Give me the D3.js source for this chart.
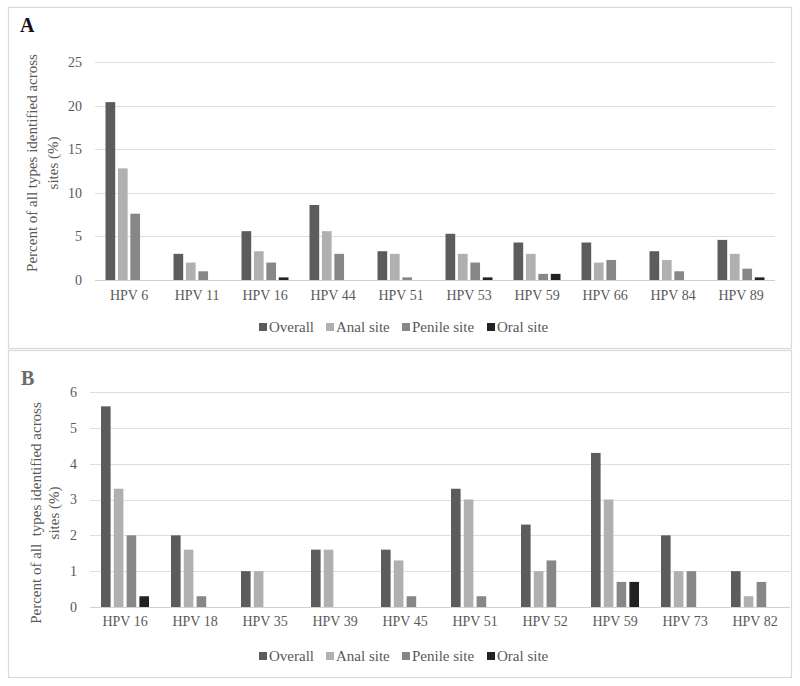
<!DOCTYPE html>
<html><head><meta charset="utf-8">
<script src="https://cdn.jsdelivr.net/npm/d3@7"></script>
<style>body{margin:0;background:#fff}svg{display:block}text{font-family:"Liberation Serif","DejaVu Serif",serif}</style>
</head><body><svg id="c" width="800" height="686"></svg>
<script>
const seriesNames = ["Overall","Anal site","Penile site","Oral site"];
const seriesColors = ["#5c5c5c","#b0b0b0","#878787","#222222"];

const catsA = ["HPV 6","HPV 11","HPV 16","HPV 44","HPV 51","HPV 53","HPV 59","HPV 66","HPV 84","HPV 89"];
const overallA = [20.4,3,5.6,8.6,3.3,5.3,4.3,4.3,3.3,4.6];
const analA    = [12.8,2,3.3,5.6,3,3,3,2,2.3,3];
const penileA  = [7.6,1,2,3,0.3,2,0.7,2.3,1,1.3];
const oralA    = [0,0,0.3,0,0,0.3,0.7,0,0,0.3];
const ticksA = [0,5,10,15,20,25];

const catsB = ["HPV 16","HPV 18","HPV 35","HPV 39","HPV 45","HPV 51","HPV 52","HPV 59","HPV 73","HPV 82"];
const overallB = [5.6,2,1,1.6,1.6,3.3,2.3,4.3,2,1];
const analB    = [3.3,1.6,1,1.6,1.3,3,1,3,1,0.3];
const penileB  = [2,0.3,0,0,0.3,0.3,1.3,0.7,1,0.7];
const oralB    = [0.3,0,0,0,0,0,0,0.7,0,0];
const ticksB = [0,1,2,3,4,5,6];

const svg = d3.select("#c");

function panel(cfg){
  const g = svg.append("g");
  g.append("rect").attr("x",cfg.box[0]+0.5).attr("y",cfg.box[1]+0.5)
    .attr("width",cfg.box[2]).attr("height",cfg.box[3])
    .attr("fill","#fff").attr("stroke","#d9d9d9").attr("stroke-width",1.2);
  g.append("text").attr("x",cfg.letterX).attr("y",cfg.letterY).text(cfg.letter)
    .attr("font-size",20).attr("font-weight","bold").attr("fill",cfg.letterColor);

  const x = d3.scaleBand().domain(cfg.cats).range([cfg.x0,cfg.x1]).paddingInner(0).paddingOuter(0);
  const y = d3.scaleLinear().domain([0,cfg.ticks[cfg.ticks.length-1]]).range([cfg.y0,cfg.y1]);
  const sub = d3.scaleBand().domain(seriesNames).range([0,cfg.groupW]).paddingInner(cfg.subPad).paddingOuter(0);

  // gridlines
  g.append("g").selectAll("line").data(cfg.ticks).join("line")
    .attr("x1",cfg.x0).attr("x2",cfg.x1)
    .attr("y1",d=>Math.round(y(d))+0.5).attr("y2",d=>Math.round(y(d))+0.5)
    .attr("stroke",d=>d===0?"#d0d0d0":"#dedede").attr("stroke-width",1.2);

  // y axis labels
  const ya = d3.axisLeft(y).tickValues(cfg.ticks).tickFormat(d3.format("d")).tickSize(0).tickPadding(0);
  const yg = g.append("g").attr("transform",`translate(${cfg.tickX},0)`).call(ya);
  yg.select(".domain").remove();
  yg.selectAll("text").attr("font-size",14).attr("fill","#595959").attr("font-family","Liberation Serif, serif");

  // x axis labels
  const xa = d3.axisBottom(x).tickSize(0).tickPadding(0);
  const xg = g.append("g").attr("transform",`translate(0,${cfg.xLabelY})`).call(xa);
  xg.select(".domain").remove();
  xg.selectAll("text").attr("font-size",14).attr("fill","#595959").attr("font-family","Liberation Serif, serif");

  // bars
  const rows = cfg.cats.map((c,i)=>({cat:c,vals:cfg.series.map(s=>s[i])}));
  const off = (x.bandwidth()-cfg.groupW)/2;
  g.append("g").selectAll("g").data(rows).join("g")
    .attr("transform",d=>`translate(${x(d.cat)+off},0)`)
    .selectAll("rect").data(d=>d.vals.map((v,k)=>({v,k}))).join("rect")
    .attr("x",d=>sub(seriesNames[d.k])).attr("width",sub.bandwidth())
    .attr("y",d=>y(d.v)).attr("height",d=>y(0)-y(d.v))
    .attr("fill",d=>seriesColors[d.k]);

  // y title
  const t = g.append("text").attr("transform",`translate(${cfg.titleX},${cfg.titleY}) rotate(-90)`)
    .attr("text-anchor","middle").attr("font-size",15).attr("fill","#595959");
  t.append("tspan").attr("x",0).attr("dy",0).attr("xml:space","preserve").text(cfg.title1);
  t.append("tspan").attr("x",0).attr("dy",cfg.titleGap).text("sites (%)");

  // legend
  const legX = [259,326,402,487];
  const lg = g.append("g");
  seriesNames.forEach((n,k)=>{
    lg.append("rect").attr("x",legX[k]).attr("y",cfg.legY-4).attr("width",8).attr("height",8).attr("fill",seriesColors[k]);
    lg.append("text").attr("x",legX[k]+10).attr("y",cfg.legY+5).text(n).attr("font-size",15).attr("fill","#595959");
  });
}

panel({box:[8,7,783,341],letter:"A",letterX:20,letterY:32,letterColor:"#111",
  cats:catsA,series:[overallA,analA,penileA,oralA],ticks:ticksA,
  x0:95,x1:775,y0:280,y1:62,groupW:47,subPad:0.22,tickX:82,xLabelY:290,
  titleX:37,titleY:163,title1:"Percent of all types identified across",titleGap:21,legY:327});

panel({box:[8,350,783,327],letter:"B",letterX:21,letterY:385,letterColor:"#6a6a6a",
  cats:catsB,series:[overallB,analB,penileB,oralB],ticks:ticksB,
  x0:90,x1:790,y0:607,y1:392,groupW:48,subPad:0.25,tickX:77,xLabelY:616,
  titleX:41,titleY:513,title1:"Percent of all  types identified across",titleGap:18,legY:656});
</script></body></html>
